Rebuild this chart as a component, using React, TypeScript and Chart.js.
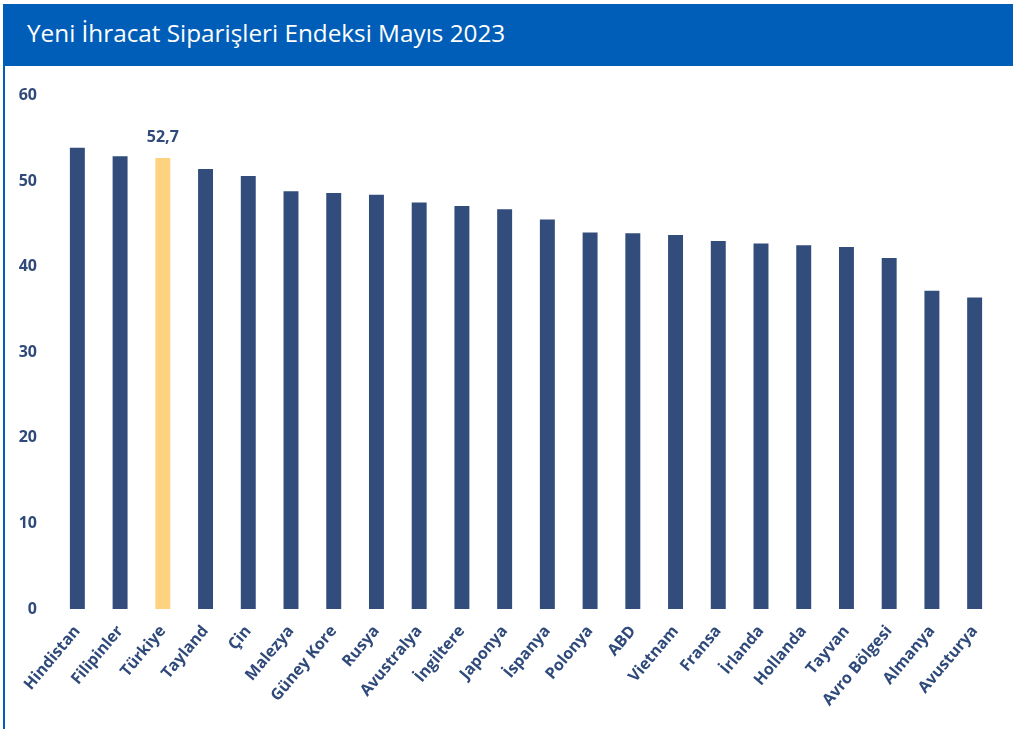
import React, { useEffect, useRef } from "react";
import { Chart, registerables } from "chart.js";

Chart.register(...registerables);

const TITLE = "Yeni İhracat Siparişleri Endeksi Mayıs 2023";

const countries = [
  "Hindistan",
  "Filipinler",
  "Türkiye",
  "Tayland",
  "Çin",
  "Malezya",
  "Güney Kore",
  "Rusya",
  "Avustralya",
  "İngiltere",
  "Japonya",
  "İspanya",
  "Polonya",
  "ABD",
  "Vietnam",
  "Fransa",
  "İrlanda",
  "Hollanda",
  "Tayvan",
  "Avro Bölgesi",
  "Almanya",
  "Avusturya",
];

const values = [
  53.9, 52.9, 52.7, 51.4, 50.6, 48.8, 48.6, 48.4, 47.5, 47.1, 46.7, 45.5, 44.0,
  43.9, 43.7, 43.0, 42.7, 42.5, 42.3, 41.0, 37.2, 36.4,
];

const highlighted = "Türkiye";

const yMin = 0;
const yMax = 60;
const yStep = 10;

const NAVY = "#324d7c";
const TEXT = "#2f4a7a";
const YELLOW = "#ffd280";
const BLUE = "#005eb8";
const FONT = "'Open Sans', 'Noto Sans', sans-serif";

const valueLabelPlugin = {
  id: "valueLabel",
  afterDatasetsDraw(chart: any) {
    const meta = chart.getDatasetMeta(0);
    const idx = countries.indexOf(highlighted);
    const bar = meta.data[idx];
    if (!bar) return;
    const ctx = chart.ctx;
    ctx.save();
    ctx.font = `bold 16px ${FONT}`;
    ctx.fillStyle = TEXT;
    ctx.textAlign = "center";
    ctx.textBaseline = "middle";
    ctx.fillText(values[idx].toFixed(1).replace(".", ","), bar.x, bar.y - 21);
    ctx.restore();
  },
};

export default function App() {
  const canvasRef = useRef<HTMLCanvasElement | null>(null);

  useEffect(() => {
    if (!canvasRef.current) return;
    const chart = new Chart(canvasRef.current, {
      type: "bar",
      data: {
        labels: countries,
        datasets: [
          {
            data: values,
            backgroundColor: countries.map((c) => (c === highlighted ? YELLOW : NAVY)),
            borderWidth: 0,
            categoryPercentage: 1,
            barPercentage: 0.35,
          },
        ],
      },
      options: {
        animation: false,
        responsive: true,
        maintainAspectRatio: false,
        layout: { padding: { top: 29.5, right: 18, left: 0, bottom: 0 } },
        plugins: {
          legend: { display: false },
          tooltip: { enabled: false },
          title: { display: false },
        },
        scales: {
          x: {
            grid: { display: false, drawTicks: false },
            border: { display: false },
            ticks: {
              autoSkip: false,
              maxRotation: 50,
              minRotation: 50,
              padding: 13,
              color: TEXT,
              font: { family: FONT, size: 16, weight: "bold" },
            },
            afterFit(scale: any) {
              scale.height = 120;
            },
          },
          y: {
            min: yMin,
            max: yMax,
            grid: { display: false, drawTicks: false },
            border: { display: false },
            ticks: {
              stepSize: yStep,
              padding: 19,
              color: TEXT,
              font: { family: FONT, size: 16, weight: "bold" },
            },
            afterFit(scale: any) {
              scale.width = 51;
            },
          },
        },
      },
      plugins: [valueLabelPlugin],
    });
    return () => chart.destroy();
  }, []);

  return (
    <div
      style={{
        position: "fixed",
        left: 0,
        top: 0,
        width: 1014,
        height: 729,
        background: "#ffffff",
        overflow: "hidden",
      }}
    >
      <div
        style={{
          position: "absolute",
          left: 3,
          top: 4,
          width: 1010,
          height: 62,
          background: BLUE,
          color: "#ffffff",
          fontFamily: FONT,
          fontSize: 24.3,
          lineHeight: "58px",
          paddingLeft: 24,
          boxSizing: "border-box",
          whiteSpace: "nowrap",
        }}
      >
        {TITLE}
      </div>
      <div
        style={{
          position: "absolute",
          left: 3,
          top: 66,
          width: 2,
          height: 663,
          background: BLUE,
        }}
      />
      <div
        style={{
          position: "absolute",
          left: 5,
          top: 66,
          width: 1009,
          height: 663,
        }}
      >
        <canvas ref={canvasRef} />
      </div>
    </div>
  );
}
